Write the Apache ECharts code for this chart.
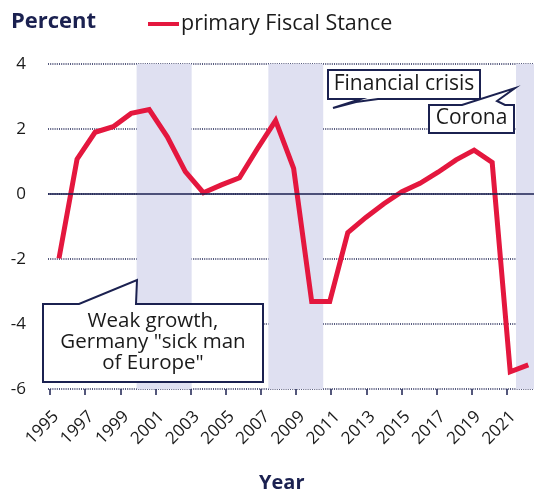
<!DOCTYPE html>
<html>
<head>
<meta charset="utf-8">
<script src="https://cdn.jsdelivr.net/npm/echarts@6/dist/echarts.min.js"></script>
<style>
html,body{margin:0;padding:0;background:#fff;}
#chart{width:534px;height:495px;}
</style>
</head>
<body>
<div id="chart"></div>
<script>
// ---- data ----
const years = [1995,1996,1997,1998,1999,2000,2001,2002,2003,2004,2005,2006,2007,2008,2009,2010,2011,2012,2013,2014,2015,2016,2017,2018,2019,2020,2021];
const fiscalStance = [-1.98,1.07,1.90,2.07,2.48,2.60,1.76,0.69,0.04,0.28,0.50,1.40,2.26,0.79,-3.31,-3.31,-1.19,-0.72,-0.30,0.07,0.33,0.67,1.05,1.35,0.97,-5.47,-5.26];
const tickFirst = 1995, tickLast = 2021, tickStep = 2;
const bandStart = [1999.30, 2006.60, 2020.32];
const bandEnd = [2002.35, 2009.64, 2021.32];
const seriesName = 'primary Fiscal Stance';

const NAVY = '#1b2150';
const RED = '#e4173e';
const FONT = 'Open Sans';

const chart = echarts.init(document.getElementById('chart'), null, {renderer:'canvas'});

const lineData = years.map((y,i)=>[y, fiscalStance[i]]);
const bands = bandStart.map((s,i)=>[{xAxis:s},{xAxis:bandEnd[i]}]);

function callout(points, cx, cy, text, fs, lh){
  return {
    type:'group',
    children:[
      {type:'polygon', shape:{points:points}, style:{fill:'#fff', stroke:NAVY, lineWidth:2, lineJoin:'miter'}, z:10},
      {type:'text', x:cx, y:cy, style:{text:text, fill:'#1a1a1a', font:fs+'px "Open Sans"', align:'center', verticalAlign:'middle', lineHeight:lh||21}, z:11}
    ]
  };
}

const option = {
  backgroundColor:'#fff',
  animation:false,
  textStyle:{fontFamily:FONT},
  title:[
    {text:'Percent', left:6, top:6, textStyle:{fontFamily:FONT, fontSize:22, fontWeight:'bold', color:NAVY}},
    {text:'Year', left:254, top:468, textStyle:{fontFamily:FONT, fontSize:20, fontWeight:'bold', color:NAVY}}
  ],
  legend:{
    left:143, top:8, icon:'rect', itemWidth:31, itemHeight:4, itemGap:10,
    textStyle:{fontFamily:FONT, fontSize:21.5, color:'#1a1a1a', padding:[0,0,0,-3]},
    data:[seriesName]
  },
  grid:[
    {left:48, right:0, top:64, bottom:106, containLabel:false},
    {left:50, right:27, top:64, bottom:106, containLabel:false, show:false}
  ],
  xAxis:[
    {type:'value', gridIndex:0, min:1994.391, max:2021.317, show:false},
    {type:'value', gridIndex:1, min:tickFirst, max:tickLast, interval:tickStep, position:'bottom',
      axisLine:{show:false, onZero:false},
      splitLine:{show:false},
      axisTick:{show:true, length:6, lineStyle:{color:NAVY, width:1.5}},
      axisLabel:{show:true, rotate:45, align:'right', verticalAlign:'top', fontSize:17, color:'#1a1a1a', fontFamily:FONT, margin:19, formatter:v=>String(v)}
    }
  ],
  yAxis:[
    {
      type:'value', gridIndex:0, min:-6, max:4, interval:2,
      axisLine:{show:false}, axisTick:{show:false},
      axisLabel:{fontSize:17, color:'#1a1a1a', fontFamily:FONT, margin:22},
      splitLine:{show:true, lineStyle:{color:NAVY, width:1.5, type:[1,1.2]}}
    },
    {type:'value', gridIndex:1, min:-6, max:4, show:false}
  ],
  series:[
    {
      type:'line', name:'bands', xAxisIndex:0, yAxisIndex:0, data:[], z:-1, silent:true,
      markArea:{silent:true, itemStyle:{color:'#dfe0f1'}, data:bands}
    },
    {
      type:'line', name:seriesName, xAxisIndex:0, yAxisIndex:0, data:lineData,
      symbol:'none', smooth:false,
      lineStyle:{color:RED, width:5, join:'miter'},
      itemStyle:{color:RED},
      markLine:{silent:true, symbol:'none', label:{show:false}, lineStyle:{color:NAVY, width:1.5, type:'solid'}, data:[{yAxis:0}]},
      z:3
    }
  ],
  graphic:[
    callout([[328,70],[480,70],[480,99],[378,99],[356,102],[333,108],[361,99],[328,99]], 404, 84, 'Financial crisis', 21),
    callout([[429,105],[462,105],[515,88],[497,101],[505,105],[514,105],[514,133],[429,133]], 471.5, 118.5, 'Corona', 21),
    callout([[43,304],[79,304],[137,280],[136,304],[263,304],[263,382],[43,382]], 153, 342, 'Weak growth,\nGermany "sick man\nof Europe"', 20.5, 21)
  ]
};
chart.setOption(option);
</script>
</body>
</html>
